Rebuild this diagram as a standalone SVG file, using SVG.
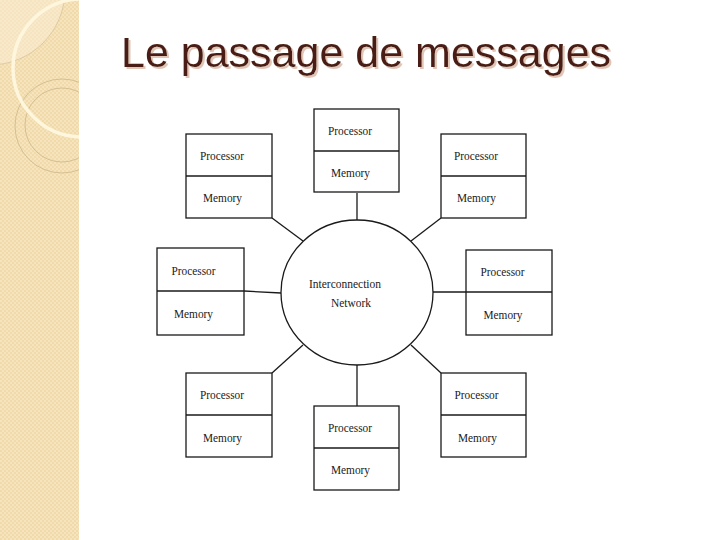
<svg xmlns="http://www.w3.org/2000/svg" width="720" height="540" viewBox="0 0 720 540">
  <defs>
    <pattern id="chk" width="4" height="4" patternUnits="userSpaceOnUse">
      <rect width="4" height="4" fill="#F0DAA9"/>
      <rect width="2" height="2" fill="#F5E4BE"/>
      <rect x="2" y="2" width="2" height="2" fill="#F5E4BE"/>
    </pattern>
    <clipPath id="panel"><rect x="0" y="0" width="79" height="540"/></clipPath>
    <filter id="shadow" x="-5%" y="-20%" width="110%" height="140%">
      <feDropShadow dx="2" dy="2" stdDeviation="0.6" flood-color="#E2C5B5" flood-opacity="1"/>
    </filter>
  </defs>
  <style>
    .box{fill:#fff;stroke:#1a1a1a;stroke-width:1.3}
    .div{stroke:#1a1a1a;stroke-width:1.3}
    .lbl{font-family:"Liberation Serif","Times New Roman",serif;font-size:13px;fill:#1a1a1a}
    .con line{stroke:#1a1a1a;stroke-width:1.3}
    .title{font-family:"Liberation Sans",Arial,sans-serif;font-size:43px}
  </style>
  <rect width="720" height="540" fill="#fff"/>
  <g id="panel-deco" clip-path="url(#panel)">
    <rect x="0" y="0" width="79" height="540" fill="url(#chk)"/>
    <circle cx="-10" cy="-10" r="75" fill="#FAF0DA" fill-opacity="0.45" stroke="#D9C49A" stroke-width="0.8"/>
    <circle cx="62" cy="126" r="47" fill="none" stroke="#D3BB8C" stroke-width="0.9"/>
    <circle cx="62" cy="125" r="37" fill="none" stroke="#D3BB8C" stroke-width="0.9"/>
    <circle cx="82" cy="68" r="69" fill="none" stroke="#FFF6DE" stroke-width="3.5"/>
  </g>
  <g id="title">
    <text class="title" x="121" y="67" fill="#4A1E13" filter="url(#shadow)">Le passage de messages</text>
  </g>
  <g class="con" id="connectors">
    <line x1="357" y1="193" x2="357" y2="220"/>
    <line x1="272" y1="218" x2="303" y2="241"/>
    <line x1="441" y1="218" x2="411" y2="241"/>
    <line x1="244" y1="291" x2="281" y2="293"/>
    <line x1="433" y1="292" x2="466" y2="292"/>
    <line x1="303" y1="345" x2="272" y2="373"/>
    <line x1="411" y1="345" x2="441" y2="373"/>
    <line x1="357" y1="365" x2="357" y2="406"/>
  </g>
  <g id="network">
    <ellipse cx="357" cy="292.5" rx="76" ry="72.5" fill="#fff" stroke="#1a1a1a" stroke-width="1.3"/>
    <text class="lbl" x="309" y="288" textLength="72" lengthAdjust="spacingAndGlyphs">Interconnection</text>
    <text class="lbl" x="331" y="306.5" textLength="40" lengthAdjust="spacingAndGlyphs">Network</text>
  </g>
  <g id="pm-top">
    <rect class="box" x="314" y="109" width="85" height="83"/>
    <line class="div" x1="314" y1="151" x2="399" y2="151"/>
    <text class="lbl" x="328" y="135" textLength="44" lengthAdjust="spacingAndGlyphs">Processor</text>
    <text class="lbl" x="331" y="177" textLength="39" lengthAdjust="spacingAndGlyphs">Memory</text>
  </g>
  <g id="pm-top-left">
    <rect class="box" x="186" y="134" width="86" height="84"/>
    <line class="div" x1="186" y1="176" x2="272" y2="176"/>
    <text class="lbl" x="200" y="160" textLength="44" lengthAdjust="spacingAndGlyphs">Processor</text>
    <text class="lbl" x="203" y="202" textLength="39" lengthAdjust="spacingAndGlyphs">Memory</text>
  </g>
  <g id="pm-top-right">
    <rect class="box" x="441" y="134" width="85" height="84"/>
    <line class="div" x1="441" y1="176" x2="526" y2="176"/>
    <text class="lbl" x="454" y="160" textLength="44" lengthAdjust="spacingAndGlyphs">Processor</text>
    <text class="lbl" x="457" y="202" textLength="39" lengthAdjust="spacingAndGlyphs">Memory</text>
  </g>
  <g id="pm-left">
    <rect class="box" x="157" y="248" width="87" height="87"/>
    <line class="div" x1="157" y1="291" x2="244" y2="291"/>
    <text class="lbl" x="171.5" y="275" textLength="44" lengthAdjust="spacingAndGlyphs">Processor</text>
    <text class="lbl" x="174" y="318" textLength="39" lengthAdjust="spacingAndGlyphs">Memory</text>
  </g>
  <g id="pm-right">
    <rect class="box" x="466" y="250" width="86" height="85"/>
    <line class="div" x1="466" y1="292" x2="552" y2="292"/>
    <text class="lbl" x="480.5" y="276" textLength="44" lengthAdjust="spacingAndGlyphs">Processor</text>
    <text class="lbl" x="483.5" y="318.5" textLength="39" lengthAdjust="spacingAndGlyphs">Memory</text>
  </g>
  <g id="pm-bottom-left">
    <rect class="box" x="186" y="373" width="86" height="84"/>
    <line class="div" x1="186" y1="415" x2="272" y2="415"/>
    <text class="lbl" x="200" y="399" textLength="44" lengthAdjust="spacingAndGlyphs">Processor</text>
    <text class="lbl" x="203" y="441.5" textLength="39" lengthAdjust="spacingAndGlyphs">Memory</text>
  </g>
  <g id="pm-bottom">
    <rect class="box" x="314" y="406" width="85" height="84"/>
    <line class="div" x1="314" y1="448" x2="399" y2="448"/>
    <text class="lbl" x="328" y="432" textLength="44" lengthAdjust="spacingAndGlyphs">Processor</text>
    <text class="lbl" x="331" y="474" textLength="39" lengthAdjust="spacingAndGlyphs">Memory</text>
  </g>
  <g id="pm-bottom-right">
    <rect class="box" x="441" y="373" width="85" height="84"/>
    <line class="div" x1="441" y1="415" x2="526" y2="415"/>
    <text class="lbl" x="454.5" y="399" textLength="44" lengthAdjust="spacingAndGlyphs">Processor</text>
    <text class="lbl" x="458" y="441.5" textLength="39" lengthAdjust="spacingAndGlyphs">Memory</text>
  </g>
</svg>
